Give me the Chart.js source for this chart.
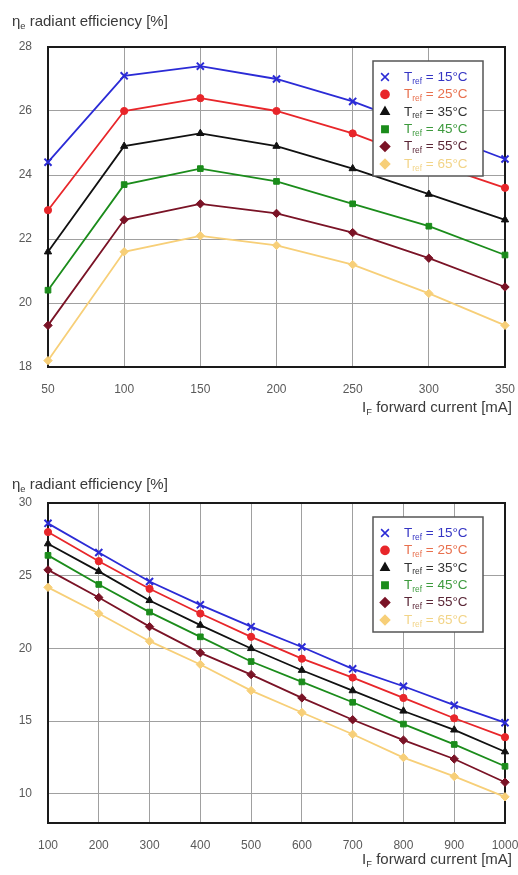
<!DOCTYPE html>
<html>
<head>
<meta charset="utf-8">
<script src="https://cdn.jsdelivr.net/npm/chart.js@4.4.1/dist/chart.umd.min.js"></script>
<style>
    body { margin: 0; background: #fff; }
    .box { position: relative; width: 518px; }
</style>
</head>
<body>
<div class="box" style="height:420px"><canvas id="chartTop"></canvas></div>
<div class="box" style="height:455px"><canvas id="chartBottom"></canvas></div>
<script>
// Reference temperatures (one series each)
const tempsRef = [15, 25, 35, 45, 55, 65];

// Upper chart: 50 .. 350 mA
const currentTop = [50, 100, 150, 200, 250, 300, 350];
const yTicksTop = [18, 20, 22, 24, 26, 28];
const effTop15 = [24.4, 27.1, 27.4, 27.0, 26.3, 25.4, 24.5];
const effTop25 = [22.9, 26.0, 26.4, 26.0, 25.3, 24.4, 23.6];
const effTop35 = [21.6, 24.9, 25.3, 24.9, 24.2, 23.4, 22.6];
const effTop45 = [20.4, 23.7, 24.2, 23.8, 23.1, 22.4, 21.5];
const effTop55 = [19.3, 22.6, 23.1, 22.8, 22.2, 21.4, 20.5];
const effTop65 = [18.2, 21.6, 22.1, 21.8, 21.2, 20.3, 19.3];

// Lower chart: 100 .. 1000 mA
const currentBottom = [100, 200, 300, 400, 500, 600, 700, 800, 900, 1000];
const yTicksBottom = [10, 15, 20, 25, 30];
const effBot15 = [28.6, 26.6, 24.6, 23.0, 21.5, 20.1, 18.6, 17.4, 16.1, 14.9];
const effBot25 = [28.0, 26.0, 24.1, 22.4, 20.8, 19.3, 18.0, 16.6, 15.2, 13.9];
const effBot35 = [27.2, 25.3, 23.3, 21.6, 20.0, 18.5, 17.1, 15.7, 14.4, 12.9];
const effBot45 = [26.4, 24.4, 22.5, 20.8, 19.1, 17.7, 16.3, 14.8, 13.4, 11.9];
const effBot55 = [25.4, 23.5, 21.5, 19.7, 18.2, 16.6, 15.1, 13.7, 12.4, 10.8];
const effBot65 = [24.2, 22.4, 20.5, 18.9, 17.1, 15.6, 14.1, 12.5, 11.2, 9.8];

// görünüm
const lineColors = ['#2b2bd6', '#e8262a', '#111111', '#1b8c1b', '#7a1326', '#f7cf78'];
const textColors = ['#3535c4', '#e8704e', '#333333', '#3d9a3d', '#5a2636', '#f2d488'];
const markers = ['crossRot', 'circle', 'triangle', 'rect', 'rectRot', 'rectRot'];
const markerSize = [5, 3.6, 4.2, 4, 4.2, 4.2];
const FONT = '"Liberation Sans", Arial, sans-serif';

// metin parçalarını alt simge ile çiz
function drawParts(ctx, parts, x, y, size, color, align) {
    const widths = parts.map(p => {
        ctx.font = (p.sub ? size * 0.62 : size) + 'px ' + FONT;
        return ctx.measureText(p.t).width;
    });
    const total = widths.reduce((a, b) => a + b, 0);
    let cx = align === 'right' ? x - total : x;
    ctx.fillStyle = color;
    ctx.textBaseline = 'middle';
    ctx.textAlign = 'left';
    parts.forEach((p, i) => {
        ctx.font = (p.sub ? size * 0.62 : size) + 'px ' + FONT;
        ctx.fillText(p.t, cx, p.sub ? y + size * 0.32 : y);
        cx += widths[i];
    });
}

const decorPlugin = {
    id: 'decor',
    beforeDatasetsDraw(chart) {
        const { ctx, chartArea: a } = chart;
        ctx.save();
        ctx.strokeStyle = '#1a1a1a';
        ctx.lineWidth = 2;
        ctx.strokeRect(a.left, a.top, a.right - a.left, a.bottom - a.top);
        ctx.restore();
    },
    afterDatasetsDraw(chart, args, opts) {
        const { ctx, chartArea: a } = chart;
        ctx.save();
        // eksen başlıkları
        drawParts(ctx, [{ t: 'η' }, { t: 'e', sub: true }, { t: ' radiant efficiency [%]' }],
            12, a.top - opts.yTitleGap, 15, '#3a3a3a', 'left');
        drawParts(ctx, [{ t: 'I' }, { t: 'F', sub: true }, { t: ' forward current [mA]' }],
            512, a.bottom + opts.xTitleGap, 15, '#3a3a3a', 'right');

        // lejant kutusu
        const w = 110, h = 115;
        const lx = a.right - 22 - w, ly = a.top + 14;
        ctx.fillStyle = '#ffffff';
        ctx.fillRect(lx, ly, w, h);
        ctx.strokeStyle = '#555555';
        ctx.lineWidth = 1.5;
        ctx.strokeRect(lx, ly, w, h);
        const rowH = 17.4;
        chart.data.datasets.forEach((ds, i) => {
            const ry = ly + 16 + i * rowH;
            ctx.fillStyle = lineColors[i];
            ctx.strokeStyle = lineColors[i];
            Chart.helpers.drawPoint(ctx, {
                pointStyle: markers[i], radius: markerSize[i] + 0.5, rotation: 0,
                borderWidth: i === 0 ? 2.2 : 1
            }, lx + 12, ry);
            drawParts(ctx, [{ t: 'T' }, { t: 'ref', sub: true }, { t: ' = ' + tempsRef[i] + '°C' }],
                lx + 31, ry, 13.5, textColors[i], 'left');
        });
        ctx.restore();
    }
};

function buildChart(canvasId, labels, series, yTicks, yMin, yMax, pad, yTitleGap, xTitleGap) {
    const ctx = document.getElementById(canvasId).getContext('2d');
    const datasets = series.map((data, i) => ({
        label: 'T_ref = ' + tempsRef[i] + '°C',
        data: data,
        borderColor: lineColors[i],
        backgroundColor: lineColors[i],
        pointBorderColor: lineColors[i],
        pointBackgroundColor: lineColors[i],
        borderWidth: 1.8,
        pointStyle: markers[i],
        pointRadius: markerSize[i],
        pointBorderWidth: i === 0 ? 2 : 1,
        tension: 0,
        fill: false
    }));

    return new Chart(ctx, {
        type: 'line',
        data: { labels: labels, datasets: datasets },
        options: {
            responsive: true,
            maintainAspectRatio: false,
            animation: false,
            layout: { padding: pad },
            plugins: {
                legend: { display: false },
                tooltip: { enabled: false },
                decor: { yTitleGap: yTitleGap, xTitleGap: xTitleGap }
            },
            scales: {
                x: {
                    offset: false,
                    grid: { color: '#a0a0a0', lineWidth: 1, drawTicks: false },
                    border: { display: false },
                    ticks: { color: '#5a5a5a', padding: 15, font: { family: FONT, size: 12 }, maxRotation: 0 },
                    afterFit: s => { s.height = pad.xAxis; s.paddingLeft = 0; s.paddingRight = 0; }
                },
                y: {
                    min: yMin,
                    max: yMax,
                    grid: { color: '#a0a0a0', lineWidth: 1, drawTicks: false },
                    border: { display: false },
                    ticks: { color: '#5a5a5a', padding: 16, font: { family: FONT, size: 12 } },
                    afterBuildTicks: s => { s.ticks = yTicks.map(v => ({ value: v })); },
                    afterFit: s => { s.width = 48; s.paddingTop = 0; s.paddingBottom = 0; }
                }
            }
        },
        plugins: [decorPlugin]
    });
}

buildChart('chartTop', currentTop,
    [effTop15, effTop25, effTop35, effTop45, effTop55, effTop65],
    yTicksTop, 18, 28,
    { top: 47, right: 13, bottom: 0, left: 0, xAxis: 53 }, 25, 41);

buildChart('chartBottom', currentBottom,
    [effBot15, effBot25, effBot35, effBot45, effBot55, effBot65],
    yTicksBottom, 8, 30,
    { top: 83, right: 13, bottom: 0, left: 0, xAxis: 52 }, 18, 37);
</script>
</body>
</html>
